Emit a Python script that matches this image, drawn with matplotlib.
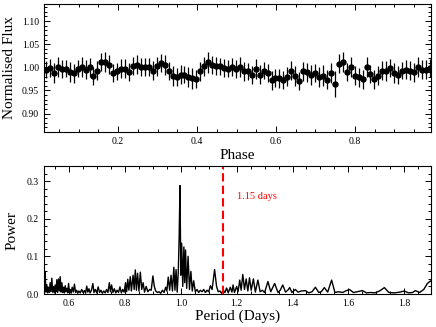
import numpy as np
import matplotlib
matplotlib.use("Agg")
import matplotlib.pyplot as plt
from matplotlib.ticker import MultipleLocator

plt.rcParams['font.family'] = ['Liberation Serif', 'DejaVu Serif']
plt.rcParams['mathtext.fontset'] = 'stix'

# Folded light curve (binned)
flux = [0.995, 0.999, 0.987, 1.001, 0.996, 0.997, 0.990, 0.987, 0.997, 1.001,
        0.995, 1.000, 0.981, 0.993, 1.011, 1.012, 1.006, 0.988, 0.991, 0.997,
        0.997, 0.990, 1.003, 1.006, 1.001, 1.001, 1.001, 0.993, 1.002, 1.009,
        1.005, 0.992, 0.981, 0.979, 0.984, 0.984, 0.979, 0.976, 0.975, 0.991,
        1.002, 1.011, 1.005, 1.003, 1.002, 0.998, 0.997, 1.001, 0.996, 1.001,
        0.991, 0.991, 0.983, 0.996, 0.984, 0.993, 0.988, 0.972, 0.977, 0.976,
        0.972, 0.980, 0.993, 0.981, 0.970, 0.991, 0.989, 0.983, 0.988, 0.979,
        0.982, 0.973, 0.988, 0.963, 1.008, 1.012, 0.990, 1.001, 0.982, 0.978,
        0.974, 1.001, 0.986, 0.974, 0.982, 0.993, 0.992, 0.999, 0.988, 0.983,
        0.993, 0.995, 0.993, 0.989, 1.001, 0.995, 0.995, 0.999]
flux_err = [0.018, 0.020, 0.022, 0.022, 0.020, 0.019, 0.021, 0.020, 0.019, 0.022,
            0.020, 0.021, 0.020, 0.020, 0.019, 0.022, 0.020, 0.020, 0.019, 0.020,
            0.021, 0.019, 0.020, 0.021, 0.019, 0.020, 0.019, 0.020, 0.021, 0.020,
            0.021, 0.020, 0.022, 0.020, 0.021, 0.019, 0.021, 0.022, 0.020, 0.021,
            0.021, 0.023, 0.020, 0.020, 0.019, 0.020, 0.019, 0.020, 0.020, 0.021,
            0.020, 0.019, 0.020, 0.021, 0.020, 0.019, 0.020, 0.021, 0.020, 0.021,
            0.019, 0.021, 0.020, 0.021, 0.020, 0.021, 0.020, 0.022, 0.020, 0.021,
            0.022, 0.021, 0.021, 0.028, 0.020, 0.022, 0.020, 0.022, 0.021, 0.020,
            0.020, 0.021, 0.020, 0.021, 0.020, 0.020, 0.022, 0.020, 0.021, 0.020,
            0.019, 0.020, 0.021, 0.020, 0.021, 0.020, 0.020, 0.020]
phase = np.linspace(0.017, 0.990, len(flux))

# Periodogram
period = [0.510, 0.512, 0.514, 0.517, 0.520, 0.523, 0.526, 0.529, 0.532, 0.535,
          0.538, 0.541, 0.544, 0.547, 0.550, 0.553, 0.556, 0.559, 0.562, 0.565,
          0.568, 0.571, 0.574, 0.577, 0.580, 0.583, 0.586, 0.589, 0.592, 0.595,
          0.598, 0.601, 0.604, 0.607, 0.611, 0.615, 0.619, 0.623, 0.627, 0.631,
          0.635, 0.640, 0.645, 0.650, 0.655, 0.659, 0.663, 0.667, 0.671, 0.675,
          0.680, 0.685, 0.689, 0.694, 0.699, 0.704, 0.709, 0.714, 0.719, 0.724,
          0.729, 0.734, 0.739, 0.744, 0.748, 0.752, 0.757, 0.762, 0.767, 0.772,
          0.777, 0.782, 0.787, 0.792, 0.797, 0.802, 0.806, 0.810, 0.814, 0.819,
          0.823, 0.829, 0.833, 0.837, 0.841, 0.845, 0.850, 0.855, 0.860, 0.865,
          0.870, 0.876, 0.882, 0.888, 0.894, 0.900, 0.905, 0.910, 0.916, 0.922,
          0.928, 0.934, 0.940, 0.946, 0.950, 0.955, 0.960, 0.965, 0.970, 0.975,
          0.979, 0.983, 0.987, 0.991, 0.994, 0.997, 1.000, 1.003, 1.007, 1.011,
          1.014, 1.017, 1.021, 1.026, 1.031, 1.036, 1.041, 1.046, 1.052, 1.058,
          1.064, 1.070, 1.076, 1.082, 1.088, 1.094, 1.100, 1.106, 1.112, 1.121,
          1.128, 1.134, 1.140, 1.146, 1.152, 1.158, 1.164, 1.170, 1.177, 1.183,
          1.187, 1.192, 1.200, 1.205, 1.211, 1.216, 1.222, 1.228, 1.234, 1.240,
          1.246, 1.252, 1.260, 1.267, 1.276, 1.284, 1.292, 1.300, 1.312, 1.322,
          1.336, 1.348, 1.356, 1.365, 1.375, 1.383, 1.390, 1.398, 1.410, 1.420,
          1.432, 1.446, 1.458, 1.470, 1.482, 1.494, 1.503, 1.514, 1.526, 1.540,
          1.552, 1.565, 1.580, 1.590, 1.604, 1.618, 1.632, 1.650, 1.665, 1.680,
          1.695, 1.712, 1.729, 1.745, 1.765, 1.785, 1.800, 1.815, 1.830, 1.840,
          1.855, 1.870, 1.883, 1.895, 1.900]
power = [0.100, 0.010, 0.060, 0.005, 0.025, 0.003, 0.018, 0.004, 0.030, 0.006,
         0.042, 0.005, 0.020, 0.003, 0.024, 0.006, 0.038, 0.004, 0.040, 0.008,
         0.046, 0.005, 0.030, 0.004, 0.018, 0.003, 0.022, 0.006, 0.015, 0.003,
         0.028, 0.004, 0.012, 0.002, 0.018, 0.005, 0.026, 0.004, 0.010, 0.002,
         0.008, 0.003, 0.012, 0.004, 0.009, 0.002, 0.021, 0.005, 0.014, 0.003,
         0.010, 0.028, 0.004, 0.012, 0.003, 0.019, 0.004, 0.010, 0.002, 0.008,
         0.003, 0.012, 0.004, 0.030, 0.006, 0.024, 0.004, 0.014, 0.003, 0.010,
         0.004, 0.019, 0.003, 0.012, 0.005, 0.030, 0.006, 0.039, 0.010, 0.046,
         0.008, 0.050, 0.012, 0.064, 0.010, 0.055, 0.008, 0.058, 0.012, 0.030,
         0.005, 0.020, 0.006, 0.012, 0.010, 0.048, 0.020, 0.008, 0.004, 0.006,
         0.002, 0.010, 0.004, 0.018, 0.008, 0.045, 0.010, 0.050, 0.008, 0.071,
         0.010, 0.065, 0.005, 0.060, 0.150, 0.288, 0.050, 0.135, 0.020, 0.125,
         0.030, 0.117, 0.015, 0.100, 0.012, 0.060, 0.008, 0.035, 0.006, 0.012,
         0.004, 0.010, 0.006, 0.012, 0.004, 0.010, 0.006, 0.022, 0.012, 0.065,
         0.020, 0.006, 0.008, 0.002, 0.010, 0.004, 0.016, 0.003, 0.018, 0.005,
         0.024, 0.004, 0.020, 0.006, 0.037, 0.010, 0.052, 0.012, 0.040, 0.008,
         0.043, 0.010, 0.040, 0.005, 0.037, 0.006, 0.010, 0.004, 0.033, 0.006,
         0.028, 0.004, 0.010, 0.024, 0.005, 0.010, 0.017, 0.004, 0.012, 0.005,
         0.008, 0.009, 0.003, 0.006, 0.018, 0.004, 0.006, 0.017, 0.005, 0.037,
         0.004, 0.006, 0.004, 0.008, 0.012, 0.004, 0.006, 0.009, 0.003, 0.004,
         0.003, 0.008, 0.017, 0.004, 0.003, 0.005, 0.008, 0.003, 0.004, 0.009,
         0.004, 0.012, 0.028, 0.035, 0.030]
best_period = 1.15

fig = plt.figure(figsize=(4.36, 3.27), dpi=100)
ax1 = fig.add_axes([44 / 436, 195 / 327, 387 / 436, 128 / 327])
ax2 = fig.add_axes([44 / 436, 33 / 327, 387 / 436, 128 / 327])

ax1.errorbar(phase, flux, yerr=flux_err, fmt='o', color='black', ms=3.6,
             elinewidth=0.9, capsize=0)
ax1.set_xlim(0.012, 0.993)
ax1.set_ylim(0.86, 1.137)
ax1.set_yticks([0.90, 0.95, 1.00, 1.05, 1.10])
ax1.xaxis.set_major_locator(MultipleLocator(0.2))
ax1.xaxis.set_minor_locator(MultipleLocator(0.05))
ax1.yaxis.set_minor_locator(MultipleLocator(0.01))
ax1.set_xlabel('Phase', fontsize=11, labelpad=2)
ax1.set_ylabel('Normalised Flux', fontsize=11, labelpad=4)

ax2.plot(period, power, color='black', lw=1.0)
ax2.axvline(best_period, color='red', ls='--', lw=1.5, dashes=(4, 2))
ax2.text(1.203, 0.26, '1.15 days', color='red', fontsize=7.5, va='center')
ax2.set_xlim(0.51, 1.896)
ax2.set_ylim(0, 0.34)
ax2.xaxis.set_major_locator(MultipleLocator(0.2))
ax2.xaxis.set_minor_locator(MultipleLocator(0.05))
ax2.yaxis.set_major_locator(MultipleLocator(0.1))
ax2.yaxis.set_minor_locator(MultipleLocator(0.02))
ax2.set_xlabel('Period (Days)', fontsize=11, labelpad=1)
ax2.set_ylabel('Power', fontsize=11, labelpad=6)

for ax in (ax1, ax2):
    ax.tick_params(which='both', direction='in', top=True, right=True,
                   labelsize=7, width=0.7)
    ax.tick_params(which='major', length=4)
    ax.tick_params(which='minor', length=2)
    for s in ax.spines.values():
        s.set_linewidth(0.8)

fig.savefig('out.png', dpi=100)
